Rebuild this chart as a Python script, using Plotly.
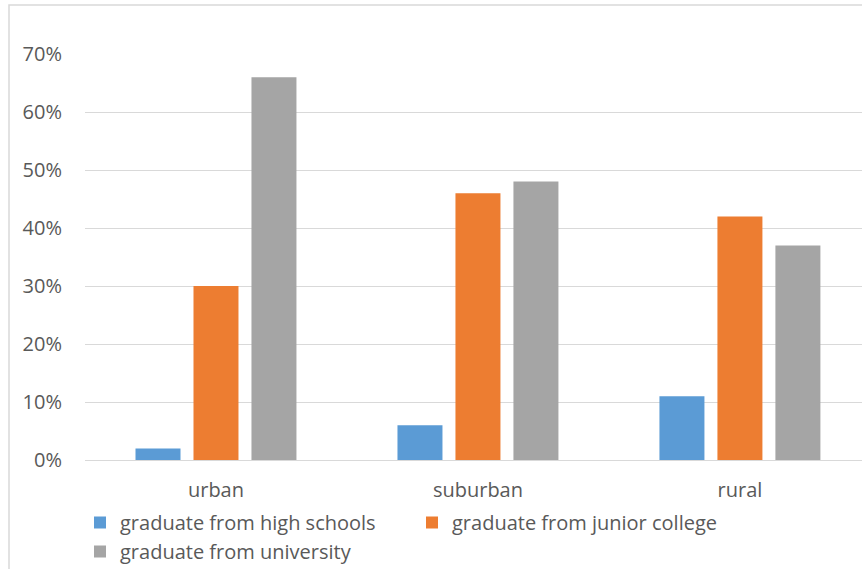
import plotly.graph_objects as go

categories = ["urban", "suburban", "rural"]
series_names = ["graduate from high schools", "graduate from junior college", "graduate from university"]
high_school = [0.02, 0.06, 0.11]
junior_college = [0.30, 0.46, 0.42]
university = [0.66, 0.48, 0.37]
colors = ["#5B9BD5", "#ED7D31", "#A5A5A5"]

W, H = 862, 569
ML, MR, MT, MB = 85, 0, 54, 109
pw = W - ML - MR
ph = H - MT - MB

fig = go.Figure()
for name, vals, col in zip(series_names, [high_school, junior_college, university], colors):
    fig.add_trace(go.Bar(name=name, x=categories, y=vals, marker=dict(color=col, line=dict(width=0))))

font_family = "Open Sans, Lato, sans-serif"
txt_col = "#595959"

fig.update_layout(
    width=W, height=H,
    margin=dict(l=ML, r=MR, t=MT, b=MB, pad=0, autoexpand=False),
    paper_bgcolor="white", plot_bgcolor="white",
    barmode="group", bargap=0.336, bargroupgap=0.224,
    font=dict(family=font_family, size=20, color=txt_col),
    showlegend=True,
    legend=dict(
        orientation="h", x=(80 - ML) / pw, xanchor="left",
        y=-(43 / ph), yanchor="top",
        font=dict(family=font_family, size=20, color=txt_col),
        entrywidth=287, entrywidthmode="pixels",
        bgcolor="rgba(0,0,0,0)", borderwidth=0, traceorder="normal",
    ),
    xaxis=dict(
        type="category", range=[-0.5, 2.466], showgrid=False, showline=False,
        ticks="", ticklabelstandoff=16, tickfont=dict(size=20, color=txt_col),
        fixedrange=True,
    ),
    yaxis=dict(
        range=[0, 0.70], dtick=0.1, tick0=0, tickformat=".0%",
        showgrid=True, gridcolor="#D9D9D9", gridwidth=1.3,
        zeroline=True, zerolinecolor="#D9D9D9", zerolinewidth=1.3,
        showline=False, ticks="", ticklabelstandoff=22,
        tickfont=dict(size=20, color=txt_col), fixedrange=True,
    ),
    shapes=[dict(
        type="rect", xref="paper", yref="paper",
        x0=(9 - ML) / pw, x1=1.05, y0=-0.35, y1=1 + (MT - 5) / ph,
        line=dict(color="#D9D9D9", width=1.5), fillcolor="rgba(0,0,0,0)", layer="below",
    )],
)

fig.write_html("out.html", config={"displayModeBar": False})
